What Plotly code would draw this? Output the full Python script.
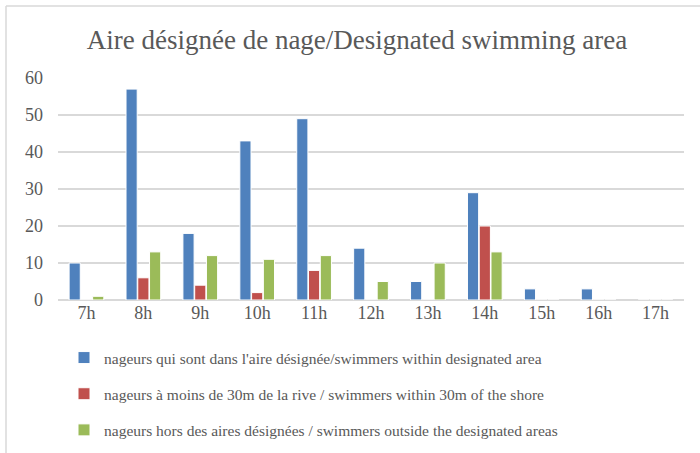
import plotly.graph_objects as go

hours = ["7h", "8h", "9h", "10h", "11h", "12h", "13h", "14h", "15h", "16h", "17h"]
within_area = [10, 57, 18, 43, 49, 14, 5, 29, 3, 3, 0]
within_30m = [0, 6, 4, 2, 8, 0, 0, 20, 0, 0, 0]
outside_area = [1, 13, 12, 11, 12, 5, 10, 13, 0, 0, 0]

names = [
    "nageurs qui sont dans l'aire désignée/swimmers within designated area",
    "nageurs à moins de 30m de la rive / swimmers within 30m of the shore",
    "nageurs hors des aires désignées / swimmers outside the designated areas",
]
colors = ["#4F81BD", "#C0504D", "#9BBB59"]
series = [within_area, within_30m, outside_area]

FONT = "Liberation Serif, DejaVu Serif, serif"
TXT = "#595959"

fig = go.Figure()
for i, (n, c, v) in enumerate(zip(names, colors, series)):
    fig.add_trace(go.Bar(
        x=hours, y=v, name=n, marker=dict(color=c, line=dict(color="white", width=1)),
        legendgroup=f"g{i}",
    ))

fig.update_layout(
    width=700, height=453,
    paper_bgcolor="white", plot_bgcolor="white",
    margin=dict(l=58, r=16, t=78, b=153, autoexpand=False),
    barmode="group", bargap=0.38, bargroupgap=0.05,
    title=dict(text="Aire désignée de nage/Designated swimming area",
               x=0.51, xanchor="center", y=1 - 40/453, yanchor="middle",
               font=dict(family=FONT, size=27, color=TXT)),
    font=dict(family=FONT, color=TXT),
    showlegend=True,
    legend=dict(orientation="v", xref="container", yref="container",
                x=64/700, xanchor="left", y=1 - 341/453, yanchor="top",
                font=dict(family=FONT, size=15.5, color=TXT),
                tracegroupgap=13, itemwidth=30, bgcolor="rgba(0,0,0,0)"),
    xaxis=dict(showgrid=False, showline=False, ticks="", tickfont=dict(size=18, color=TXT)),
    yaxis=dict(range=[0, 60], dtick=10, showgrid=True, gridcolor="#D9D9D9", gridwidth=1.5,
               zeroline=True, zerolinecolor="#D9D9D9", zerolinewidth=1.5,
               showline=False, ticks="", ticklabelstandoff=14,
               tickfont=dict(size=18, color=TXT)),
    shapes=[
        dict(type="line", xref="paper", yref="paper", x0=-52/626, x1=700/626,
             y0=1 + 72/222, y1=1 + 72/222, line=dict(color="#D9D9D9", width=1.5)),
        dict(type="line", xref="paper", yref="paper", x0=-52/626, x1=-52/626,
             y0=1 + 72/222, y1=-160/222, line=dict(color="#D9D9D9", width=1.5)),
    ],
)

fig.write_html("out.html", config={"displayModeBar": False},
               post_script="document.body.style.margin='0px';")
